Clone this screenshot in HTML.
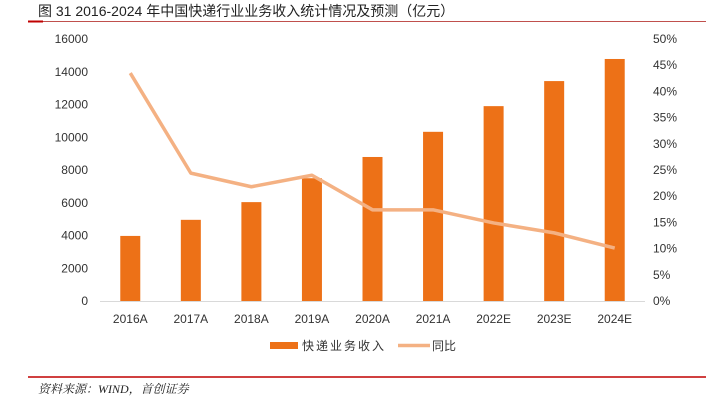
<!DOCTYPE html>
<html><head><meta charset="utf-8"><style>
body{margin:0;background:#fff;width:706px;height:407px;overflow:hidden;font-family:"Liberation Sans","Noto Sans CJK SC",sans-serif}
</style></head><body>
<svg id="chart" width="706" height="407" xmlns="http://www.w3.org/2000/svg">
<text x="38" y="16" font-size="14" fill="#222" font-family="Liberation Sans, Noto Sans CJK SC, sans-serif">图 31 2016-2024 年中国快递行业业务收入统计情况及预测（亿元）</text>
<line x1="28" y1="21.5" x2="706" y2="21.5" stroke="#c0504d" stroke-width="1"/>
<line x1="28" y1="21.5" x2="43" y2="21.5" stroke="#c00000" stroke-width="2"/>
<g id="plot"></g>
<line x1="28" y1="377" x2="706" y2="377" stroke="#c00000" stroke-width="1.5"/>
<text x="38" y="393" font-size="12" font-style="italic" fill="#222" font-family="Liberation Serif, Noto Serif CJK SC, serif">资料来源：WIND，首创证券</text>
</svg>
<script>
const categories=["2016A","2017A","2018A","2019A","2020A","2021A","2022E","2023E","2024E"];
const revenue=[3974,4957,6038,7498,8795,10332,11900,13430,14780];
const growth=[43.5,24.4,21.8,24.0,17.4,17.4,14.9,13.0,10.1];
const leftTicks=[0,2000,4000,6000,8000,10000,12000,14000,16000];
const rightTicks=[0,5,10,15,20,25,30,35,40,45,50];
const NS="http://www.w3.org/2000/svg";
const g=document.getElementById('plot');
const yTop=39,yBot=301,x0=100,x1=645;
const yL=v=>yBot-(v/16000)*(yBot-yTop);
const yR=v=>yBot-(v/50)*(yBot-yTop);
const step=(x1-x0)/categories.length;
const xC=i=>x0+step*(i+0.5);
function mk(t,a){const e=document.createElementNS(NS,t);for(const k in a)e.setAttribute(k,a[k]);g.appendChild(e);return e;}
leftTicks.forEach(v=>{const t=mk('text',{x:88,y:yL(v)+4,'font-size':12,fill:'#333','text-anchor':'end'});t.textContent=v;

});
rightTicks.forEach(v=>{const t=mk('text',{x:653,y:yR(v)+4,'font-size':12,fill:'#333'});t.textContent=v+'%';

});
revenue.forEach((v,i)=>{const r=mk('rect',{x:xC(i)-10,y:yL(v),width:20,height:yBot-yL(v),fill:'#ed7117'});

});
const ax=mk('line',{x1:x0,y1:yBot+0.5,x2:x1,y2:yBot+0.5,stroke:'#d9d9d9','stroke-width':1});


categories.forEach((c,i)=>{const t=mk('text',{x:xC(i),y:323,'font-size':12,fill:'#333','text-anchor':'middle'});t.textContent=c;

});
const pl=mk('polyline',{points:growth.map((v,i)=>xC(i)+','+yR(v)).join(' '),fill:'none',stroke:'#f4b183','stroke-width':3.5,'stroke-linejoin':'round'});


const l1=mk('rect',{x:270,y:342,width:28,height:7,fill:'#ed7117'});


const t1=mk('text',{x:302,y:350,'font-size':12,fill:'#333','letter-spacing':'2'});t1.textContent='快递业务收入';


const l2=mk('line',{x1:398,y1:345.5,x2:430,y2:345.5,stroke:'#f4b183','stroke-width':3.5});


const t2=mk('text',{x:432,y:350,'font-size':12,fill:'#333'});t2.textContent='同比';


</script>
</body></html>
